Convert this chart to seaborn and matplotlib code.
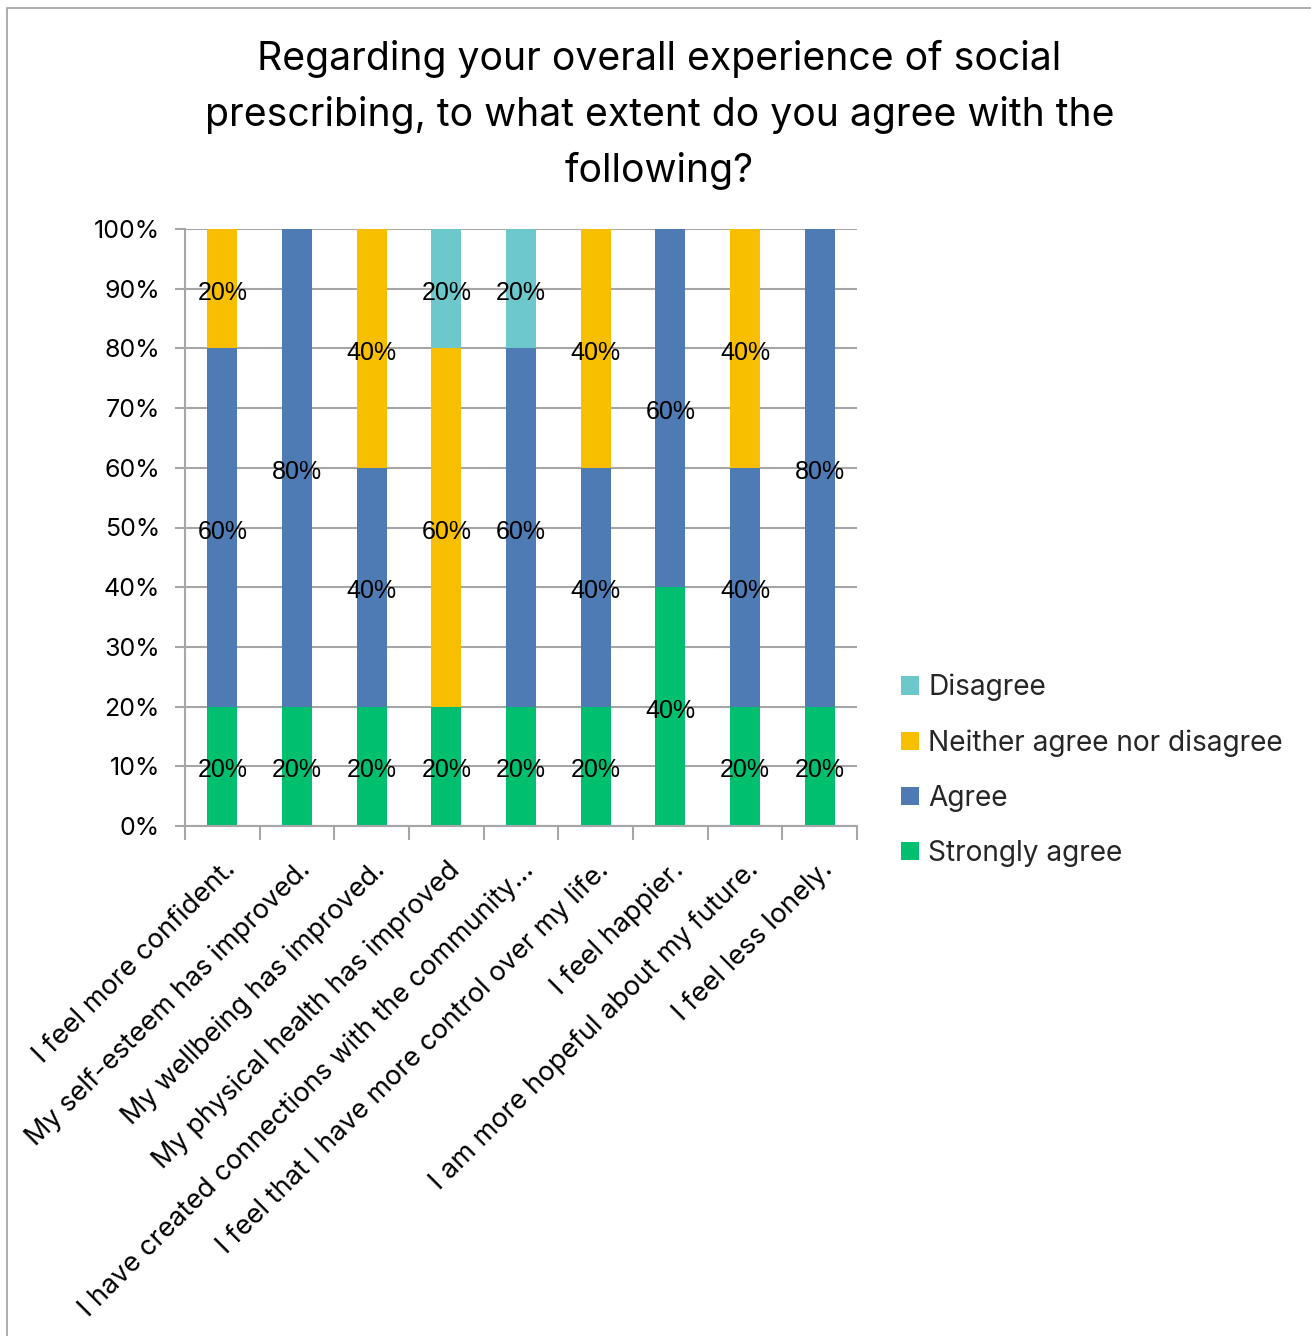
import matplotlib
matplotlib.use("Agg")
import matplotlib.pyplot as plt
from matplotlib.patches import Patch, Rectangle
from matplotlib.ticker import FixedLocator, PercentFormatter
import pandas as pd
import seaborn as sns

# Survey statements (x axis)
statements = [
    "I feel more confident.",
    "My self-esteem has improved.",
    "My wellbeing has improved.",
    "My physical health has improved",
    "I have created connections with the community...",
    "I feel that I have more control over my life.",
    "I feel happier.",
    "I am more hopeful about my future.",
    "I feel less lonely.",
]

# Response shares per statement (percent)
strongly_agree = [20, 20, 20, 20, 20, 20, 40, 20, 20]
agree = [60, 80, 40, 0, 60, 40, 60, 40, 80]
neither = [20, 0, 40, 60, 0, 40, 0, 40, 0]
disagree = [0, 0, 0, 20, 20, 0, 0, 0, 0]

responses = ["Disagree", "Neither agree nor disagree", "Agree", "Strongly agree"]
colors = {
    "Disagree": "#6DC8CC",
    "Neither agree nor disagree": "#F8BE00",
    "Agree": "#4F7BB5",
    "Strongly agree": "#00BF6F",
}

title = ("Regarding your overall experience of social\n"
         "prescribing, to what extent do you agree with the\n"
         "following?")

rows = []
for resp, vals in zip(responses, [disagree, neither, agree, strongly_agree]):
    for s, v in zip(statements, vals):
        rows.append({"statement": s, "response": resp, "pct": v})
df = pd.DataFrame(rows)

sns.set_theme(style="white")
ui_font = ["Inter", "DejaVu Sans"]
plt.rcParams["font.family"] = ui_font

fig = plt.figure(figsize=(13.11, 13.36), dpi=100)
ax = fig.add_axes([185 / 1311, 1 - 826 / 1336, (857 - 185) / 1311, (826 - 229) / 1336])

sns.histplot(
    data=df, x="statement", hue="response", weights="pct",
    hue_order=responses, palette=colors, multiple="stack",
    discrete=True, shrink=0.4, alpha=1, linewidth=0,
    legend=False, ax=ax,
)

# Percentage labels centred in every non-empty segment
for cont in ax.containers:
    labels = [f"{round(b.get_height())}%" if b.get_height() > 0 else "" for b in cont]
    ax.bar_label(cont, labels=labels, label_type="center", padding=-3,
                 fontsize=18, family="Liberation Sans", color="black")

ax.set_ylim(0, 100)
ax.set_xlim(-0.5, len(statements) - 0.5)
ax.yaxis.set_major_locator(FixedLocator(range(0, 101, 10)))
ax.yaxis.set_major_formatter(PercentFormatter(decimals=0))
ax.set_xlabel("")
ax.set_ylabel("")

grid_c = "#A6A6A6"
ax.set_axisbelow(True)
ax.yaxis.grid(True, color=grid_c, linewidth=1.5)
ax.xaxis.grid(False)
for side in ["top", "right"]:
    ax.spines[side].set_visible(False)
for side in ["left", "bottom"]:
    ax.spines[side].set_color(grid_c)
    ax.spines[side].set_linewidth(1.5)

ax.tick_params(axis="y", which="major", left=True, length=7, width=1.5,
               color=grid_c, labelsize=18, pad=11, labelcolor="black")
ax.xaxis.set_minor_locator(FixedLocator([i - 0.5 for i in range(len(statements) + 1)]))
ax.tick_params(axis="x", which="minor", bottom=True, length=10, width=1.5, color=grid_c)
ax.tick_params(axis="x", which="major", bottom=False, length=0, pad=22)
ax.set_xticks(range(len(statements)))
ax.set_xticklabels(statements, rotation=45, ha="right", rotation_mode="anchor",
                   fontsize=19.5, color="black")

fig.text(0.503, 1 - 40 / 1336, title, ha="center", va="top", fontsize=28.2,
         linespacing=1.6, color="black")

handles = [Patch(facecolor=colors[r], edgecolor="none") for r in responses]
fig.legend(handles, responses, loc="center left",
           bbox_to_anchor=(901 / 1311, 1 - 770.5 / 1336),
           frameon=False, fontsize=20.2, borderpad=0, borderaxespad=0,
           handlelength=0.64, handleheight=0.64, handletextpad=0.33,
           labelspacing=1.0)

# Thin frame around the chart area
fig.add_artist(Rectangle((7 / 1311, -0.1), 1.2, 1.1 - 8 / 1336, transform=fig.transFigure,
                         fill=False, edgecolor="#A0A0A0", linewidth=1.2))

fig.savefig("out.png", dpi=100, facecolor="white")
